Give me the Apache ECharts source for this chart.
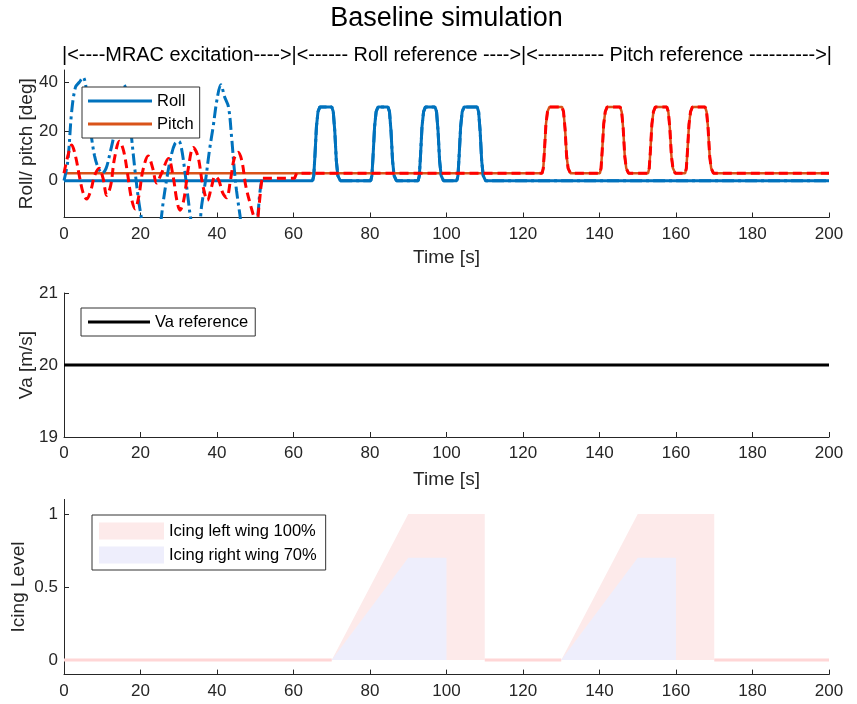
<!DOCTYPE html>
<html>
<head>
<meta charset="utf-8">
<script src="https://cdn.jsdelivr.net/npm/echarts@6/dist/echarts.min.js"></script>
<style>html,body{margin:0;padding:0;background:#fff}#c{width:857px;height:704px}</style>
</head>
<body>
<div id="c"></div>
<script>
// ---------- data ----------
const timeTicks = [0, 20, 40, 60, 80, 100, 120, 140, 160, 180, 200];
const attTicks = [0, 20, 40];
const vaTicks = [19, 20, 21];
const icingTicks = [0, 0.5, 1];

// roll reference (deg)
const rollRef = [
  [0,0],[65,0],[65.3,2],[65.6,10],[66,22],[66.4,28],[66.9,30],[70,30],[70.4,28],[70.8,20],[71.2,8],[71.6,2],[72.2,0],
  [80.2,0],[80.5,2],[80.8,10],[81.2,22],[81.6,28],[82.1,30],[84.7,30],[85.1,28],[85.5,20],[85.9,8],[86.3,2],[86.9,0],
  [92.6,0],[92.9,2],[93.2,10],[93.6,22],[94,28],[94.5,30],[97,30],[97.4,28],[97.8,20],[98.2,8],[98.6,2],[99.2,0],
  [102.7,0],[103,2],[103.3,10],[103.7,22],[104.1,28],[104.6,30],[108,30],[108.4,28],[108.8,20],[109.2,8],[109.6,2],[110.2,0],
  [200,0]
];
// pitch reference (deg)
const pitchRef = [
  [0,3],[125,3],[125.3,5],[125.6,12],[126,23],[126.4,28],[126.9,30],[130.2,30],[130.6,28],[131,21],[131.4,10],[131.8,5],[132.4,3],
  [140.1,3],[140.4,5],[140.7,12],[141.1,23],[141.5,28],[142,30],[145.4,30],[145.8,28],[146.2,21],[146.6,10],[147,5],[147.6,3],
  [152.7,3],[153,5],[153.3,12],[153.7,23],[154.1,28],[154.6,30],[157.6,30],[158,28],[158.4,21],[158.8,10],[159.2,5],[159.8,3],
  [162.4,3],[162.7,5],[163,12],[163.4,23],[163.8,28],[164.3,30],[167.6,30],[168,28],[168.4,21],[168.8,10],[169.2,5],[169.8,3],
  [200,3]
];
// actual roll during MRAC excitation (deg)
const rollExcitation = [
  [0,0],[1,8],[2,28],[3,38],[4,40],[5,42],[6,35],[7,20],[8,10],[9,5],[10,3],[11,5],[12,11],[13,18],[14,28],[15,37],
  [15.6,39],[16.5,35],[17.5,20],[18.5,5],[19.5,-8],[20.3,-16],[21,-25],[23,-35],[25,-20],[26,-8],[27,2],[28,10],[29,15],
  [30,16],[30.6,14],[31.5,5],[32.5,-8],[33.5,-18],[35,-22],[36,-10],[37,0],[38,12],[39,22],[40,33],[41,39],[42,34],[43,30],
  [43.8,18],[44.5,5],[45.1,-4],[46,-14],[47,-25],[49,-25],[50.5,-16],[51.2,-5],[51.8,0],[52,0]
];
// actual pitch during MRAC excitation (deg)
const pitchExcitation = [
  [0,3],[1,10],[2,14.5],[3,10],[4,2],[5,-5],[5.9,-7.5],[7,-4],[8,2],[9.2,5],[10.2,1],[11.2,-6],[12.2,-2],[13.2,9],[14.5,16],
  [15.6,12],[16.6,3],[17.6,-7],[18.6,-11.5],[19.6,-6],[20.6,4],[22,10],[23.2,5],[24.2,-1],[25.5,3],[27.3,9],[28.5,2],[29.5,-8],
  [30.3,-12],[31.3,-8],[32.5,5],[33.8,13.5],[35,10],[36.3,-2],[37.5,-8],[38.5,-3],[39.5,1.8],[40.5,0],[41.5,-5],[42.5,-7],
  [43.5,0],[44.5,9],[45.5,11.5],[46.5,8],[47.5,-2],[48.6,-9],[49.5,-14],[50.3,-18],[51,-10],[51.7,0],[52,1]
];
const pitchSettle = [[52,1],[60.3,1],[60.8,3]];
// airspeed reference (m/s)
const vaRef = [[0,20],[200,20]];
// icing levels
const icingLeft = [[0,0],[70,0],[90,1],[110,1],[110,0],[130,0],[150,1],[170,1],[170,0],[200,0]];
const icingRight = [[0,0],[70,0],[90,0.7],[100,0.7],[100,0],[130,0],[150,0.7],[160,0.7],[160,0],[200,0]];

// ---------- chart ----------
const FONT = "'Liberation Sans', Arial, Helvetica, sans-serif";
const AX = '#262626';
const BLUE = '#0072BD', ORANGE = '#D95319', RED = '#FF0000';

function xAxisCfg(gi, name, gap) {
  const cfg = {
    type: 'value', gridIndex: gi, min: 0, max: 200, interval: 20,
    axisLine: { show: true, onZero: false, lineStyle: { color: AX, width: 1 } },
    axisTick: { show: true, inside: true, length: 5, lineStyle: { color: AX } },
    axisLabel: { fontFamily: FONT, fontSize: 17, color: AX, margin: 8 },
    splitLine: { show: false }
  };
  if (name) {
    cfg.name = name; cfg.nameLocation = 'middle'; cfg.nameGap = gap; cfg.nameMoveOverlap = false;
    cfg.nameTextStyle = { fontFamily: FONT, fontSize: 19, color: AX };
  }
  return cfg;
}
function yAxisCfg(gi, name, min, max, ticks, gap) {
  return {
    type: 'value', gridIndex: gi, min: min, max: max,
    name: name, nameLocation: 'middle', nameRotate: 90, nameGap: gap, nameMoveOverlap: false,
    nameTextStyle: { fontFamily: FONT, fontSize: 19, color: AX },
    axisLine: { show: true, onZero: false, lineStyle: { color: AX, width: 1 } },
    axisTick: { show: true, inside: true, length: 5, lineStyle: { color: AX }, customValues: ticks },
    axisLabel: { fontFamily: FONT, fontSize: 17, color: AX, margin: 6, customValues: ticks },
    splitLine: { show: false }
  };
}

const legendBase = {
  orient: 'vertical', backgroundColor: '#fff', borderColor: '#333', borderWidth: 1,
  itemWidth: 64, icon: 'rect',
  textStyle: { fontFamily: FONT, fontSize: 16.5, color: '#000', lineHeight: 18 }
};

const option = {
  animation: false,
  backgroundColor: '#fff',
  graphic: [
    { type: 'text', x: 446.5, y: 19, style: { text: 'Baseline simulation', font: '27px ' + FONT, fill: '#000', textAlign: 'center', textVerticalAlign: 'middle' } },
    { type: 'text', x: 447, y: 56, style: { text: '|<----MRAC excitation---->|<------ Roll reference ---->|<---------- Pitch reference ---------->|', font: '19.9px ' + FONT, fill: '#000', textAlign: 'center', textVerticalAlign: 'middle' } }
  ],
  grid: [
    { left: 64, right: 28, top: 70, height: 147.5, outerBoundsMode: 'none' },
    { left: 64, right: 28, top: 293, height: 144, outerBoundsMode: 'none' },
    { left: 64, right: 28, top: 499.4, height: 175.2, outerBoundsMode: 'none' }
  ],
  xAxis: [xAxisCfg(0, 'Time [s]', 31), xAxisCfg(1, 'Time [s]', 33), xAxisCfg(2, null, 0)],
  yAxis: [
    yAxisCfg(0, 'Roll/ pitch [deg]', -15, 45, attTicks, 28),
    yAxisCfg(1, 'Va [m/s]', 19, 21, vaTicks, 28),
    yAxisCfg(2, 'Icing Level', -0.1, 1.1, icingTicks, 36)
  ],
  legend: [
    Object.assign({}, legendBase, { left: 82, top: 87, padding: [5, 6, 5, 6], itemGap: 5, itemHeight: 3, data: ['Roll', 'Pitch'] }),
    Object.assign({}, legendBase, { left: 81, top: 308, padding: [5, 7, 5, 7], itemGap: 5, itemWidth: 62, itemHeight: 3, data: ['Va reference'] }),
    Object.assign({}, legendBase, { left: 92, top: 515, padding: [7, 9, 6, 7], itemGap: 6, itemWidth: 65, itemHeight: 17, data: ['Icing left wing 100%', 'Icing right wing 70%'] })
  ],
  series: [
    { name: 'Roll', type: 'line', xAxisIndex: 0, yAxisIndex: 0, data: rollRef, showSymbol: false, symbol: 'none', color: BLUE, lineStyle: { color: BLUE, width: 3 } },
    { name: 'Pitch', type: 'line', xAxisIndex: 0, yAxisIndex: 0, data: pitchRef, showSymbol: false, symbol: 'none', color: ORANGE, lineStyle: { color: ORANGE, width: 2.5 } },
    { name: 'roll-actual-exc', type: 'line', xAxisIndex: 0, yAxisIndex: 0, data: rollExcitation, smooth: 0.35, symbol: 'none', clip: true, lineStyle: { color: BLUE, width: 3, type: [12, 4, 3, 4] } },
    { name: 'roll-actual', type: 'line', xAxisIndex: 0, yAxisIndex: 0, data: rollRef.filter(p => p[0] >= 52), symbol: 'none', lineStyle: { color: BLUE, width: 3, type: [12, 4, 3, 4] } },
    { name: 'pitch-actual-exc', type: 'line', xAxisIndex: 0, yAxisIndex: 0, data: pitchExcitation, smooth: 0.35, symbol: 'none', clip: true, lineStyle: { color: RED, width: 3, type: [9, 5] } },
    { name: 'pitch-actual', type: 'line', xAxisIndex: 0, yAxisIndex: 0, data: pitchSettle.concat(pitchRef.filter(p => p[0] > 61)), symbol: 'none', lineStyle: { color: RED, width: 3, type: [9, 5] } },

    { name: 'Va reference', type: 'line', xAxisIndex: 1, yAxisIndex: 1, data: vaRef, symbol: 'none', color: '#000', lineStyle: { color: '#000', width: 3 } },

    { name: 'Icing left wing 100%', type: 'line', xAxisIndex: 2, yAxisIndex: 2, data: icingLeft, symbol: 'none', color: '#fdeaea', lineStyle: { width: 0 }, areaStyle: { color: '#fdeaea', opacity: 1 } },
    { name: 'Icing right wing 70%', type: 'line', xAxisIndex: 2, yAxisIndex: 2, data: icingRight, symbol: 'none', color: '#eeeefc', lineStyle: { width: 0 }, areaStyle: { color: '#eeeefc', opacity: 1 } },
    { name: 'icing-baseline', type: 'line', xAxisIndex: 2, yAxisIndex: 2, data: icingLeft.map(p => [p[0], p[1] === 0 ? 0 : null]), symbol: 'none', connectNulls: false, lineStyle: { color: '#ffd6d6', width: 3 } }
  ]
};

const chart = echarts.init(document.getElementById('c'), null, { renderer: 'canvas' });
chart.setOption(option);
</script>
</body>
</html>
